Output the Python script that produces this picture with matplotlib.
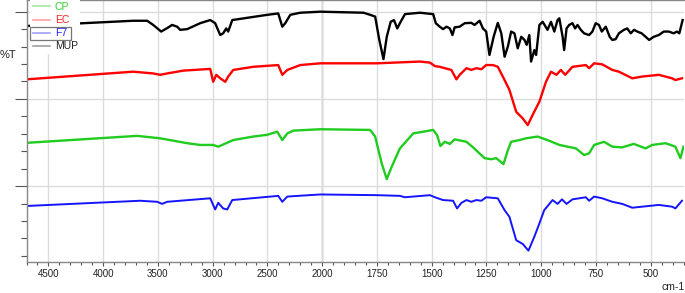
import numpy as np
import matplotlib
matplotlib.use("Agg")
import matplotlib.pyplot as plt
from matplotlib.ticker import FixedLocator, MultipleLocator, NullFormatter
from matplotlib.patches import Rectangle

plt.rcParams['font.family'] = ['Liberation Sans Narrow', 'Liberation Sans', 'DejaVu Sans']

# FTIR spectra (wavenumber cm-1, %T, stacked with offsets)
mup_wn = [4700, 3726, 3598, 3543, 3470, 3415, 3370, 3324, 3297, 3233, 3114, 3022, 2977, 2931,
          2904, 2876, 2858, 2821, 2501, 2401, 2364, 2337, 2291, 2200, 2017, 1811, 1781, 1758,
          1739, 1720, 1705, 1687, 1672, 1657, 1645, 1622, 1554, 1493, 1481, 1463, 1448, 1432,
          1417, 1405, 1395, 1372, 1349, 1319, 1304, 1281, 1266, 1251, 1236, 1217, 1198, 1182,
          1167, 1152, 1137, 1122, 1107, 1091, 1076, 1066, 1054, 1046, 1031, 1023, 1008, 993,
          971, 955, 940, 925, 917, 902, 895, 884, 872, 857, 845, 834, 819, 804, 781, 766, 751,
          736, 723, 705, 687, 675, 660, 645, 622, 607, 591, 576, 561, 541, 523, 507, 486, 463,
          440, 417, 395, 380, 369, 354]
mup_t = [95.9, 97.4, 97.4, 96.2, 94.3, 95.3, 96.2, 95.7, 94.8, 95.0, 96.7, 97.6, 96.7, 93.3,
         93.8, 95.2, 94.3, 97.6, 99.1, 99.5, 95.7, 96.7, 99.1, 99.7, 100.0, 99.7, 99.1, 98.6,
         91.9, 86.4, 92.8, 97.1, 97.6, 95.2, 96.7, 99.3, 99.7, 99.3, 96.7, 95.7, 95.0, 95.7,
         95.2, 93.3, 95.5, 95.7, 96.7, 96.8, 96.2, 97.4, 95.2, 94.3, 87.6, 92.8, 96.8, 93.8,
         87.1, 90.0, 94.3, 93.8, 89.5, 92.8, 91.9, 90.5, 93.3, 85.7, 89.0, 87.6, 96.2, 97.1,
         94.8, 97.1, 94.3, 97.6, 98.1, 92.8, 89.0, 95.2, 96.2, 96.7, 95.2, 96.2, 94.8, 93.8,
         93.3, 94.3, 96.7, 96.2, 94.3, 95.7, 92.8, 91.9, 92.1, 93.8, 94.8, 95.2, 93.8, 94.8,
         94.3, 93.8, 92.8, 91.9, 92.8, 93.3, 94.3, 94.3, 93.8, 94.3, 93.8, 97.6]

ec_wn = [4700, 3726, 3543, 3479, 3415, 3269, 3022, 2995, 2967, 2931, 2885, 2858, 2812, 2629,
         2401, 2364, 2318, 2200, 2017, 1750, 1554, 1508, 1485, 1463, 1440, 1410, 1387, 1372,
         1341, 1319, 1296, 1273, 1251, 1220, 1198, 1175, 1145, 1114, 1084, 1061, 1039, 1008,
         978, 955, 930, 910, 890, 857, 796, 781, 758, 721, 675, 645, 584, 539, 463, 402, 387, 357]
ec_t = [80.6, 82.8, 82.3, 81.9, 82.3, 83.1, 83.6, 79.9, 81.9, 80.9, 79.9, 81.4, 83.3, 84.2,
        84.7, 81.9, 83.3, 84.7, 85.2, 85.2, 85.7, 85.4, 84.4, 84.2, 83.8, 83.3, 80.6, 81.9,
        83.8, 83.3, 83.8, 83.5, 84.7, 84.7, 84.2, 81.4, 77.6, 71.3, 69.4, 67.5, 70.4, 74.2,
        79.9, 82.8, 81.9, 83.3, 81.9, 84.2, 84.7, 83.8, 85.2, 84.9, 83.3, 82.8, 80.9, 81.4,
        81.9, 80.9, 80.4, 80.9]

cp_wn = [4700, 3690, 3479, 3233, 3114, 2995, 2949, 2812, 2629, 2501, 2410, 2364, 2318, 2264,
         2017, 1781, 1758, 1728, 1705, 1682, 1645, 1584, 1493, 1475, 1460, 1440, 1417, 1395,
         1341, 1311, 1258, 1228, 1205, 1172, 1152, 1137, 1099, 1069, 1016, 963, 917, 841, 804,
         781, 758, 713, 675, 630, 577, 523, 493, 432, 387, 364, 350]
cp_t = [62.4, 64.4, 63.7, 62.3, 61.8, 61.8, 61.3, 63.2, 64.2, 64.7, 65.6, 63.2, 65.1, 65.9,
        66.3, 66.1, 64.2, 56.5, 52.0, 55.6, 60.8, 65.1, 66.1, 64.6, 61.5, 62.7, 62.1, 63.4,
        62.7, 61.1, 58.0, 57.7, 58.0, 56.3, 60.3, 62.7, 63.2, 63.7, 64.2, 63.0, 61.8, 60.8,
        58.9, 59.4, 61.8, 62.7, 61.3, 61.1, 62.1, 60.8, 61.8, 62.3, 61.3, 58.0, 61.3]

f7_wn = [4700, 3662, 3507, 3461, 3415, 3022, 2977, 2949, 2904, 2867, 2821, 2401, 2364, 2318,
         2017, 1750, 1645, 1622, 1508, 1485, 1448, 1402, 1384, 1364, 1341, 1319, 1296, 1273,
         1251, 1198, 1167, 1145, 1114, 1084, 1058, 1031, 1008, 986, 948, 925, 905, 884, 857,
         796, 781, 758, 721, 675, 630, 584, 539, 463, 402, 387, 357]
f7_t = [44.3, 45.8, 45.5, 44.9, 45.5, 46.5, 43.3, 45.2, 43.6, 43.3, 46.0, 47.2, 45.5, 47.0,
        47.6, 47.4, 47.2, 46.8, 47.4, 46.8, 46.0, 45.8, 43.6, 45.2, 46.0, 45.5, 46.0, 45.8,
        46.8, 46.5, 43.1, 41.2, 34.5, 33.4, 31.5, 35.5, 39.3, 43.1, 46.0, 44.9, 46.2, 44.9,
        46.2, 46.8, 45.8, 47.0, 46.5, 45.5, 44.9, 43.8, 44.1, 44.6, 44.1, 43.6, 45.8]

major_ticks = [4500, 4000, 3500, 3000, 2500, 2000, 1750, 1500, 1250, 1000, 750, 500]


def fwd(x):
    x = np.asarray(x, dtype=float)
    return np.where(x >= 2000, x, 2000 + 2 * (x - 2000))


def inv(u):
    u = np.asarray(u, dtype=float)
    return np.where(u >= 2000, u, 2000 + (u - 2000) / 2)


fig = plt.figure(figsize=(6.85, 2.93), dpi=100)
ax = fig.add_axes([26.5 / 685, 1 - 262 / 293, 657 / 685, 262 / 293])

ax.plot(cp_wn, cp_t, color='#1fcc1f', lw=1.7, label='CP')
ax.plot(ec_wn, ec_t, color='#ff0000', lw=1.7, label='EC')
ax.plot(f7_wn, f7_t, color='#1414ff', lw=1.4, label='F7')
ax.plot(mup_wn, mup_t, color='#000000', lw=1.7, label='MUP')

ax.set_xscale('function', functions=(fwd, inv))
ax.set_xlim(4700, 350)
ax.set_ylim(28.24, 103.35)

ax.xaxis.set_major_locator(FixedLocator(major_ticks))
ax.xaxis.set_minor_locator(FixedLocator(list(range(4700, 2000, -100)) + list(range(2000, 349, -50))))
ax.set_xticklabels([str(t) for t in major_ticks])
ax.xaxis.set_minor_formatter(NullFormatter())
ax.yaxis.set_major_locator(MultipleLocator(25))
ax.yaxis.set_minor_locator(MultipleLocator(5))
ax.yaxis.set_major_formatter(NullFormatter())

ax.grid(True, which='major', color='#dcdcdc', lw=1.0)
ax.axvline(2000, color='#a8a8a8', lw=1.0, zorder=0.5)
ax.set_axisbelow(True)

ax.tick_params(axis='x', which='major', direction='out', length=3.2, width=0.8,
               color='#555555', labelsize=7, labelcolor='#222222', pad=2)
ax.tick_params(axis='x', which='minor', direction='out', length=2.4, width=0.8, color='#555555')
ax.tick_params(axis='y', which='major', direction='out', length=8.6, width=0.8, color='#555555')
ax.tick_params(axis='y', which='minor', direction='out', length=4.3, width=0.8, color='#555555')

for s in ['left', 'bottom', 'top']:
    ax.spines[s].set_color('#888888')
    ax.spines[s].set_linewidth(1.0)
ax.spines['right'].set_visible(False)

handles, labels = ax.get_legend_handles_labels()
leg = ax.legend(handles, labels, loc='upper left', bbox_to_anchor=(0.006, 1.0),
                frameon=True, fancybox=False, framealpha=1, facecolor='white', edgecolor='none',
                fontsize=7.5, handlelength=1.7, handletextpad=0.45, labelspacing=0.3,
                borderpad=0.2, borderaxespad=0)
pale = ['#a8e8a8', '#ffa0a0', '#a0a0ff', '#a0a0a0']
txtc = ['#33cc33', '#ff2020', '#2020ff', '#222222']
for h, c in zip(leg.get_lines(), pale):
    h.set_color(c)
    h.set_linewidth(1.2)
for t, c in zip(leg.get_texts(), txtc):
    t.set_color(c)

fig.patches.append(Rectangle((30 / 685, 1 - 40.5 / 293), 41 / 685, 13.5 / 293,
                             transform=fig.transFigure, fill=False,
                             edgecolor='#777777', lw=0.9, zorder=10))

fig.text(0.0, 1 - 55 / 293, '%T', fontsize=8, color='#222222', va='center', ha='left')
fig.text(1.0, 1 - 287 / 293, 'cm-1', fontsize=7.5, color='#222222', va='center', ha='right')

fig.savefig('out.png', dpi=100)
